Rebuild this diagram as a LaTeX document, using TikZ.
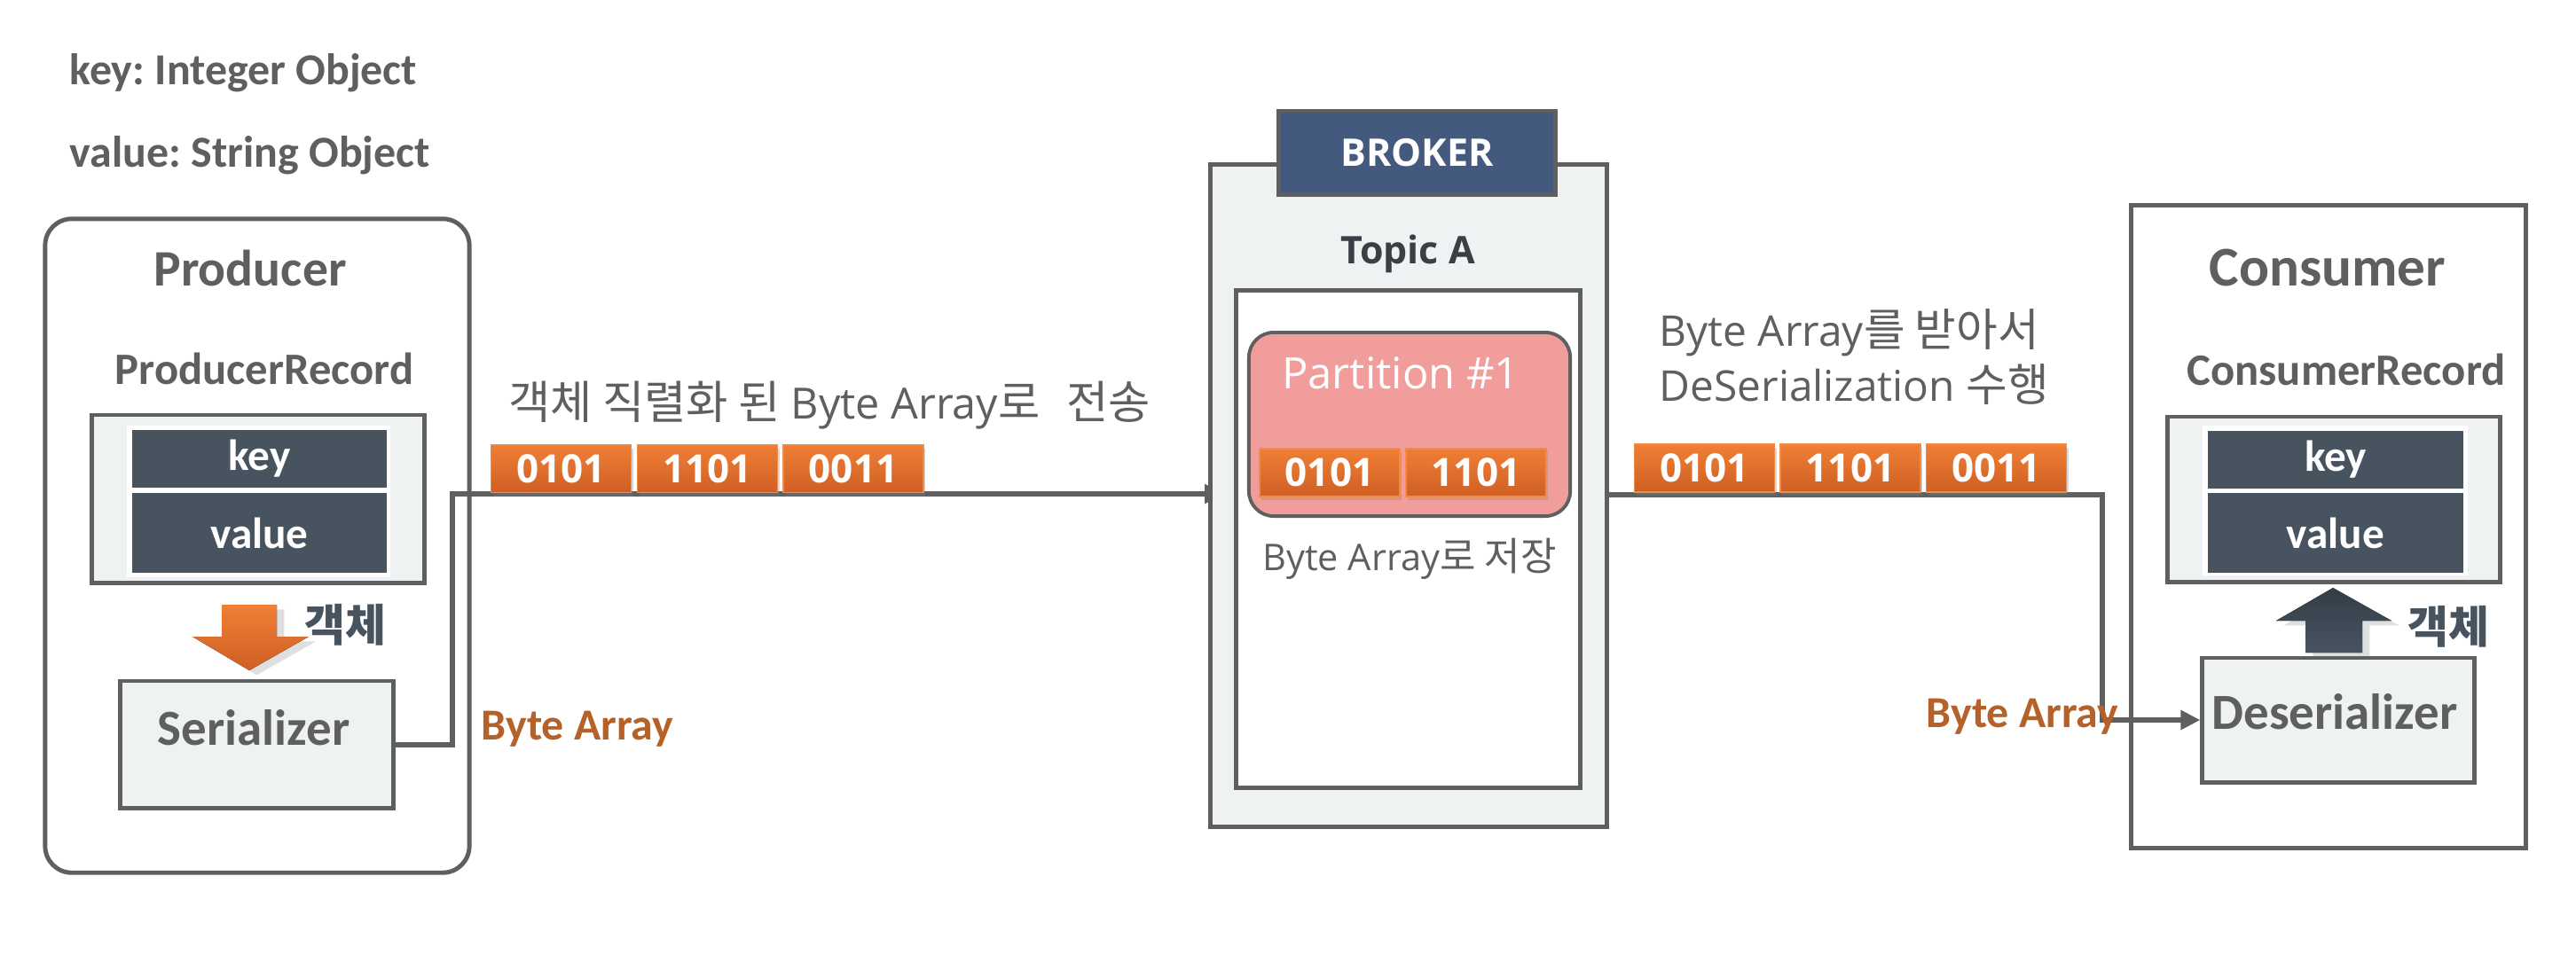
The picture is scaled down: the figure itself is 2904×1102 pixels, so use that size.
\documentclass[tikz,border=0pt]{standalone}
\usepackage{fontspec}
\setmainfont{Carlito}
\newfontfamily\os{Open Sans}
\newfontfamily\kr[Scale=1.06]{Noto Sans CJK KR}
\usetikzlibrary{arrows.meta,shadows}
\frenchspacing

\definecolor{linegray}{HTML}{5F5F5F}
\definecolor{boxfill}{HTML}{EEF2F3}
\definecolor{slate}{HTML}{47545F}
\definecolor{slatetop}{HTML}{323D47}
\definecolor{brokerblue}{HTML}{44597E}
\definecolor{partpink}{HTML}{F19D9B}
\definecolor{orangetop}{HTML}{EF7F35}
\definecolor{orangebot}{HTML}{CF5F24}
\definecolor{orangeedge}{HTML}{F28C45}
\definecolor{bytebrown}{HTML}{B5622A}
\definecolor{darktext}{HTML}{3A3F45}

\tikzset{
	boxline/.style={draw=linegray, line width=1.4pt},
	greybox/.style={boxline, fill=boxfill},
	cell/.style={fill=slate, text=white, inner sep=0pt, minimum width=2.87cm,
		font=\bfseries\fontsize{14}{16}\selectfont},
	bits/.style={rectangle, inner sep=0pt, minimum width=1.58cm, minimum height=0.54cm,
		top color=orangetop, bottom color=orangebot, draw=orangeedge, line width=0.5pt,
		text=white, font=\os\bfseries\fontsize{12.5}{14}\selectfont,
		drop shadow={opacity=0.3, shadow xshift=0.6pt, shadow yshift=-1.2pt}},
	wire/.style={draw=linegray, line width=1.7pt},
	lbl/.style={text=linegray, inner sep=0pt},
	objtxt/.style={text=slate, inner sep=0pt, font=\kr\bfseries\fontsize{13.4}{16}\selectfont},
	bytetxt/.style={text=bytebrown, inner sep=0pt, anchor=base,
		font=\bfseries\fontsize{14.2}{16}\selectfont},
	tip/.style={-{Triangle[length=0.22cm, width=0.21cm]}}
}

\begin{document}
\begin{tikzpicture}[x=0.01cm, y=-0.01cm]
	\useasboundingbox[fill=white] (0,0) rectangle (2904,1102);

	\node[lbl, anchor=base west, font=\bfseries\fontsize{14.2}{16}\selectfont] (keyinfo) at (78,95) {key: Integer Object};
	\node[lbl, anchor=base west, font=\bfseries\fontsize{14.2}{16}\selectfont] (valinfo) at (78,188) {value: String Object};

	% producer
	\node[boxline, rounded corners=0.3cm, minimum width=4.78cm, minimum height=7.37cm] (prod) at (290,615.5) {};
	\node[lbl, anchor=base, font=\bfseries\fontsize{16.4}{18}\selectfont] (prodtitle) at (282,322) {Producer};
	\node[lbl, anchor=base, font=\bfseries\fontsize{14.4}{16}\selectfont] (prodrec) at (298,433) {ProducerRecord};
	\node[greybox, minimum width=3.74cm, minimum height=1.89cm] (precbox) at (291,562.5) {};
	\node[fill=white, minimum width=2.97cm, minimum height=1.71cm] (precpad) at (291.5,565.5) {};
	\node[cell, minimum height=0.65cm] (pkey) at (292.5,517.5) {key};
	\node[cell, minimum height=0.9cm] (pval) at (292.5,601) {value};
	\fill[top color=orangetop, bottom color=orangebot, drop shadow={opacity=0.25, shadow yshift=-1.5pt}]
		(250,682) -- (312,682) -- (312,718) -- (348,718) -- (281,756) -- (217,718) -- (250,718) -- cycle;
	\node[objtxt] (objl) at (389,705) {객체};
	\node[greybox, minimum width=3.07cm, minimum height=1.43cm] (ser) at (289.5,839.5) {};
	\node[lbl, anchor=base, font=\bfseries\fontsize{16.2}{18}\selectfont] (sertxt) at (286,840) {Serializer};

	% producer -> broker
	\coordinate (lbend) at (510,557);
	\coordinate (ain) at (1380,557);
	\draw[wire, tip] (ser.east) -| (lbend) -- (ain);
	\foreach \v/\x [count=\n] in {0101/632.5, 1101/797.5, 0011/962}
		\node[bits] (lb\n) at (\x,528.5) {\v};
	\node[lbl, anchor=base, font=\fontsize{13.8}{16}\selectfont] (sendtxt) at (935,472)
		{{\kr 객체 직렬화 된 }{\os Byte Array}{\kr 로\hspace{0.35em} 전송}};
	\node[bytetxt] (lbytes) at (651,834) {Byte Array};

	% broker
	\node[greybox, minimum width=4.46cm, minimum height=7.46cm] (brk) at (1588,559) {};
	\node[boxline, fill=brokerblue, text=white, font=\os\bfseries\fontsize{12.2}{14}\selectfont,
		minimum width=3.11cm, minimum height=0.94cm] (brklbl) at (1597.5,172) {BROKER};
	\node[anchor=base, text=darktext, inner sep=0pt, font=\os\bfseries\fontsize{12.2}{14}\selectfont] (topiclbl) at (1587,297) {Topic A};
	\node[boxline, fill=white, minimum width=3.87cm, minimum height=5.6cm] (topic) at (1587.5,608) {};
	\node[draw=linegray, line width=1.1pt, fill=partpink, rounded corners=0.28cm,
		minimum width=3.62cm, minimum height=2.07cm] (part) at (1589,478.5) {};
	\node[anchor=base, text=white, inner sep=0pt, font=\os\fontsize{13.9}{16}\selectfont] (parttxt) at (1579,438) {Partition \#1};
	\foreach \v/\x [count=\n] in {0101/1499, 1101/1664}
		\node[bits] (pb\n) at (\x,533) {\v};
	\node[lbl, anchor=base, font=\fontsize{11.8}{14}\selectfont] (storetxt) at (1589,643) {{\os Byte Array}{\kr 로 저장}};

	% consumer
	\node[boxline, minimum width=4.44cm, minimum height=7.24cm] (cons) at (2625,594) {};
	\node[lbl, anchor=base, font=\bfseries\fontsize{18}{20}\selectfont] (constitle) at (2624,322) {Consumer};
	\node[lbl, anchor=base, font=\bfseries\fontsize{14.4}{16}\selectfont] (consrec) at (2645,434) {ConsumerRecord};
	\node[greybox, minimum width=3.74cm, minimum height=1.86cm] (crecbox) at (2631,563) {};
	\node[fill=white, minimum width=2.99cm, minimum height=1.69cm] (crecpad) at (2632.5,564.5) {};
	\node[cell, minimum height=0.65cm] (ckey) at (2633,518.5) {key};
	\node[cell, minimum height=0.9cm] (cval) at (2633,601) {value};
	\fill[top color=slatetop, bottom color=slate, drop shadow={opacity=0.25, shadow yshift=-1.5pt}]
		(2599,736) -- (2599,700) -- (2566,700) -- (2630,663) -- (2696,700) -- (2663,700) -- (2663,736) -- cycle;
	\node[objtxt] (objr) at (2760,707) {객체};
	\node[greybox, minimum width=3.06cm, minimum height=1.4cm] (deser) at (2636,812) {};
	\node[lbl, anchor=base, font=\bfseries\fontsize{16.2}{18}\selectfont] (desertxt) at (2632,822) {Deserializer};

	% broker -> consumer
	\coordinate (rout) at (1811,558);
	\coordinate (rbend) at (2370,812);
	\draw[wire, tip] (rout) -| (rbend) -- (deser.west);
	\foreach \v/\x [count=\n] in {0101/1921.5, 1101/2086, 0011/2250.5}
		\node[bits] (rb\n) at (\x,528) {\v};
	\node[lbl, anchor=base west, font=\fontsize{13.6}{16}\selectfont] (rtxt1) at (1870,390) {{\os Byte Array}{\kr 를 받아서}};
	\node[lbl, anchor=base west, font=\fontsize{13.6}{16}\selectfont] (rtxt2) at (1870,452) {{\os DeSerialization }{\kr 수행}};
	\node[bytetxt] (rbytes) at (2280,820) {Byte Array};
\end{tikzpicture}
\end{document}
